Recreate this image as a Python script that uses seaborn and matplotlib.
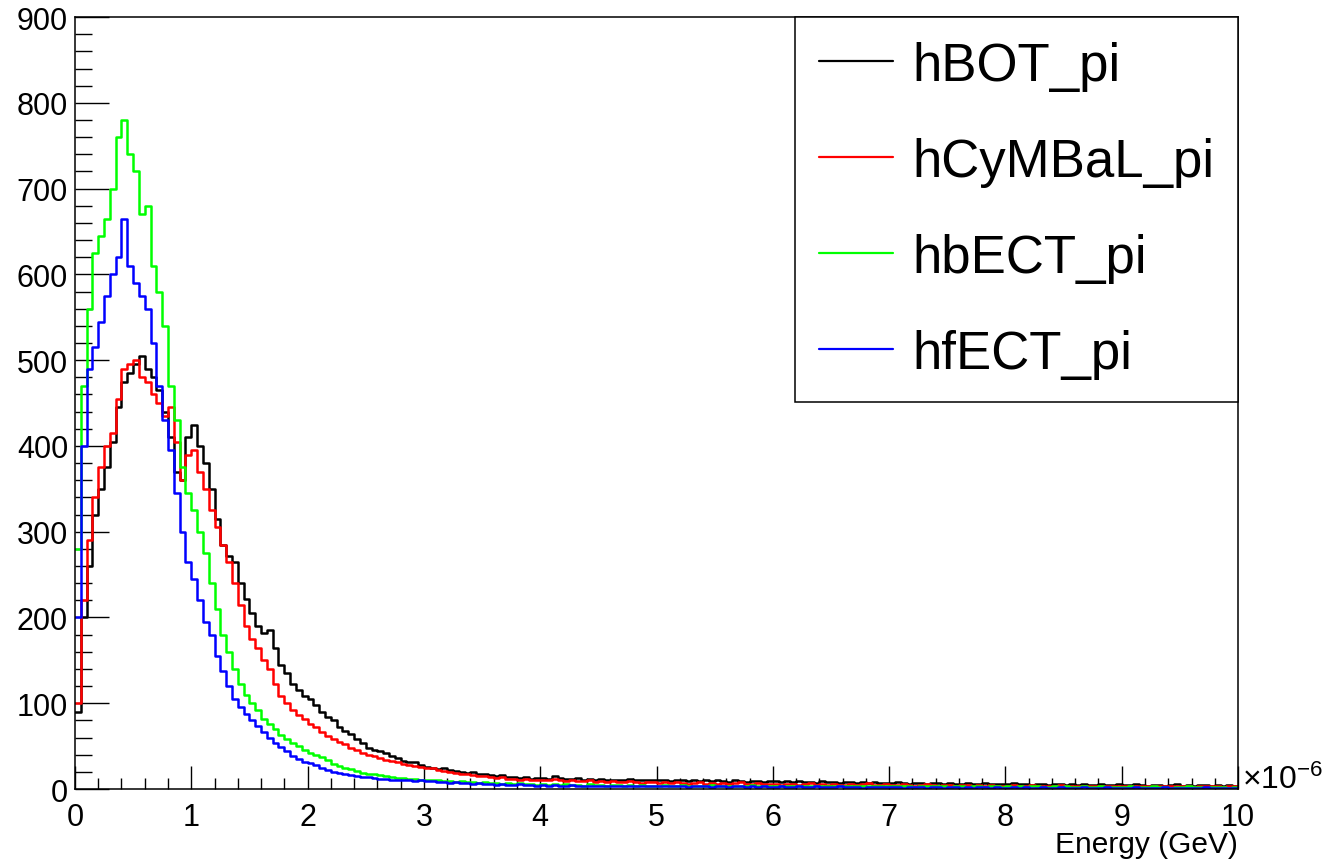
import numpy as np
import pandas as pd
import matplotlib
matplotlib.use('Agg')
import matplotlib.pyplot as plt
from matplotlib.lines import Line2D
from matplotlib.ticker import MultipleLocator
import seaborn as sns

# Energy deposit spectra, 200 bins of 0.05 (x1e-6 GeV) from 0 to 10
bin_width = 0.05
n_bins = 200

hBOT_pi = [
    90, 200, 260, 320, 350, 375, 405, 445, 475, 485, 495, 505, 490, 480, 465, 440, 410, 370, 360, 410,
    425, 400, 380, 350, 315, 285, 272, 265, 240, 221, 205, 190, 182, 185, 165, 145, 135, 122, 115, 108,
    105, 98, 90, 84, 80, 72, 68, 64, 58, 54, 48, 46, 44, 42, 38, 36, 33, 32, 31, 28,
    26, 24, 23, 25, 22, 21, 20, 19, 20, 18, 17, 16, 15, 16, 14, 14, 13, 14, 12, 13,
    13, 12, 15, 13, 12, 12, 13, 11, 12, 11, 12, 10, 11, 10, 11, 12, 10, 11, 10, 10,
    10, 11, 9, 10, 11, 9, 10, 9, 10, 9, 10, 9, 8, 10, 9, 8, 9, 9, 8, 9,
    9, 8, 9, 8, 9, 8, 8, 7, 9, 8, 8, 7, 8, 8, 7, 8, 7, 8, 7, 7,
    7, 8, 7, 6, 7, 7, 6, 7, 7, 6, 7, 6, 6, 7, 6, 6, 7, 6, 6, 6,
    6, 7, 6, 6, 5, 6, 6, 5, 6, 6, 5, 6, 5, 6, 5, 5, 6, 5, 5, 6,
    5, 5, 6, 5, 4, 5, 5, 4, 5, 6, 4, 5, 4, 5, 5, 4, 5, 4, 5, 4,
]

hCyMBaL_pi = [
    100, 220, 290, 340, 375, 400, 415, 455, 490, 495, 500, 480, 475, 460, 450, 435, 445, 405, 360, 390,
    395, 370, 350, 325, 305, 285, 265, 240, 215, 190, 175, 165, 150, 140, 122, 108, 100, 92, 86, 82,
    76, 72, 66, 62, 58, 55, 52, 48, 45, 42, 40, 38, 36, 34, 33, 31, 29, 28, 27, 26,
    25, 24, 22, 21, 20, 19, 18, 18, 16, 15, 15, 14, 13, 14, 12, 12, 11, 12, 11, 10,
    11, 10, 12, 10, 9, 10, 9, 9, 10, 8, 9, 8, 9, 8, 8, 9, 8, 7, 8, 8,
    7, 8, 7, 8, 7, 6, 7, 8, 6, 7, 6, 7, 6, 7, 8, 6, 6, 7, 6, 6,
    6, 5, 6, 6, 5, 6, 7, 5, 6, 5, 6, 5, 5, 6, 5, 6, 7, 5, 5, 6,
    5, 5, 6, 5, 4, 5, 6, 5, 4, 5, 5, 4, 5, 5, 4, 5, 4, 5, 4, 4,
    4, 5, 4, 4, 5, 4, 3, 4, 4, 5, 4, 3, 4, 4, 3, 4, 4, 3, 4, 3,
    3, 4, 3, 4, 3, 3, 4, 3, 3, 4, 3, 3, 2, 3, 4, 3, 3, 2, 3, 3,
]

hbECT_pi = [
    280, 470, 560, 625, 645, 665, 700, 760, 780, 740, 720, 670, 680, 610, 580, 540, 470, 430, 375, 345,
    325, 300, 275, 240, 210, 180, 160, 140, 122, 110, 100, 92, 82, 76, 70, 63, 58, 54, 50, 46,
    42, 40, 37, 34, 29, 27, 25, 23, 21, 19, 18, 17, 16, 15, 14, 13, 13, 12, 12, 11,
    11, 10, 10, 9, 9, 8, 9, 8, 8, 7, 8, 7, 7, 6, 7, 6, 7, 6, 6, 5,
    6, 5, 6, 5, 6, 5, 5, 4, 6, 5, 5, 4, 5, 5, 4, 5, 4, 5, 4, 4,
    4, 5, 4, 4, 5, 4, 3, 4, 4, 5, 4, 3, 4, 4, 3, 4, 5, 4, 3, 4,
    3, 4, 4, 3, 4, 3, 4, 3, 4, 3, 3, 4, 3, 3, 4, 3, 3, 4, 3, 3,
    3, 3, 4, 3, 2, 3, 3, 4, 3, 3, 2, 3, 3, 2, 3, 3, 2, 3, 3, 2,
    3, 2, 3, 2, 3, 3, 2, 2, 3, 2, 3, 2, 2, 3, 2, 2, 3, 2, 2, 2,
    2, 3, 2, 2, 2, 3, 2, 2, 1, 2, 2, 3, 2, 2, 1, 2, 2, 2, 1, 2,
]

hfECT_pi = [
    200, 400, 490, 515, 545, 575, 600, 620, 665, 610, 590, 575, 560, 520, 470, 430, 395, 345, 300, 265,
    245, 220, 195, 180, 155, 138, 120, 105, 96, 88, 80, 74, 66, 60, 54, 49, 44, 39, 35, 32,
    30, 28, 25, 22, 20, 19, 18, 16, 15, 14, 14, 13, 12, 12, 11, 10, 11, 10, 9, 10,
    9, 9, 8, 8, 7, 8, 7, 7, 6, 7, 6, 6, 5, 6, 5, 5, 6, 5, 5, 4,
    5, 4, 5, 4, 4, 5, 4, 4, 3, 4, 4, 3, 4, 3, 4, 3, 3, 4, 3, 3,
    3, 3, 4, 3, 3, 2, 3, 3, 3, 2, 3, 3, 2, 3, 3, 2, 3, 2, 3, 2,
    2, 3, 2, 2, 3, 2, 2, 3, 2, 2, 2, 3, 2, 2, 2, 1, 2, 2, 2, 2,
    2, 2, 1, 2, 2, 2, 1, 2, 2, 1, 2, 2, 1, 2, 1, 2, 2, 1, 2, 1,
    1, 2, 1, 2, 1, 1, 2, 1, 1, 2, 1, 1, 1, 2, 1, 1, 1, 2, 1, 1,
    1, 1, 2, 1, 1, 1, 1, 2, 1, 1, 1, 1, 1, 1, 2, 1, 1, 1, 1, 1,
]

names = ['hBOT_pi', 'hCyMBaL_pi', 'hbECT_pi', 'hfECT_pi']
colors = ['#000000', '#ff0000', '#00ff00', '#0000ff']
y_ticks = [0, 100, 200, 300, 400, 500, 600, 700, 800, 900]
x_ticks = [0, 1, 2, 3, 4, 5, 6, 7, 8, 9, 10]

edges = np.linspace(0, n_bins * bin_width, n_bins + 1)
centers = 0.5 * (edges[:-1] + edges[1:])

frames = []
for name, vals in zip(names, [hBOT_pi, hCyMBaL_pi, hbECT_pi, hfECT_pi]):
    frames.append(pd.DataFrame({'energy': centers, 'counts': vals, 'hist': name}))
df = pd.concat(frames, ignore_index=True)

sns.set_theme(style='white')
plt.rcParams['font.family'] = ['Liberation Sans', 'DejaVu Sans']
plt.rcParams['mathtext.fontset'] = 'custom'
plt.rcParams['mathtext.rm'] = 'Liberation Sans'
plt.rcParams['mathtext.it'] = 'Liberation Sans'
plt.rcParams['text.color'] = 'black'
plt.rcParams['axes.labelcolor'] = 'black'

fig = plt.figure(figsize=(13.22, 8.62), dpi=100)
ax = fig.add_axes([0.0567, 0.0835, 0.8798, 0.8955])

for name, col in zip(names, colors):
    sns.histplot(data=df[df['hist'] == name], x='energy', weights='counts',
                 binwidth=bin_width, binrange=(0, n_bins * bin_width),
                 element='step', fill=False, color=col, linewidth=1.8, ax=ax)

ax.set_xlim(0, 10)
ax.set_ylim(0, 900)
ax.set_xticks(x_ticks)
ax.set_yticks(y_ticks)
ax.xaxis.set_minor_locator(MultipleLocator(0.2))
ax.yaxis.set_minor_locator(MultipleLocator(20))
ax.tick_params(axis='both', which='both', direction='in', colors='black', width=1,
               bottom=True, left=True, top=False, right=False, labelsize=22)
ax.tick_params(axis='x', which='major', length=16.5, pad=9)
ax.tick_params(axis='x', which='minor', length=8)
ax.tick_params(axis='y', which='major', length=24.5, pad=5)
ax.tick_params(axis='y', which='minor', length=12)
for sp in ax.spines.values():
    sp.set_visible(True)
    sp.set_color('black')
    sp.set_linewidth(1.1)

ax.set_ylabel('')
ax.set_xlabel('Energy (GeV)', fontsize=21.5, ha='right', va='top')
ax.xaxis.set_label_coords(1.0, -0.053)
ax.text(1.003, 0.012, r'$\times10^{-6}$', transform=ax.transAxes, fontsize=23,
        ha='left', va='center')

handles = [Line2D([0], [0], color=c, lw=1.6) for c in colors]
leg = ax.legend(handles, names, loc='upper right', bbox_to_anchor=(1, 1), borderaxespad=0,
                fontsize=38, handlelength=1.4, handletextpad=0.37, borderpad=0.45,
                labelspacing=0.87, fancybox=False, framealpha=1, edgecolor='black')
leg.get_frame().set_linewidth(1.1)

fig.savefig('out.png', dpi=100)
